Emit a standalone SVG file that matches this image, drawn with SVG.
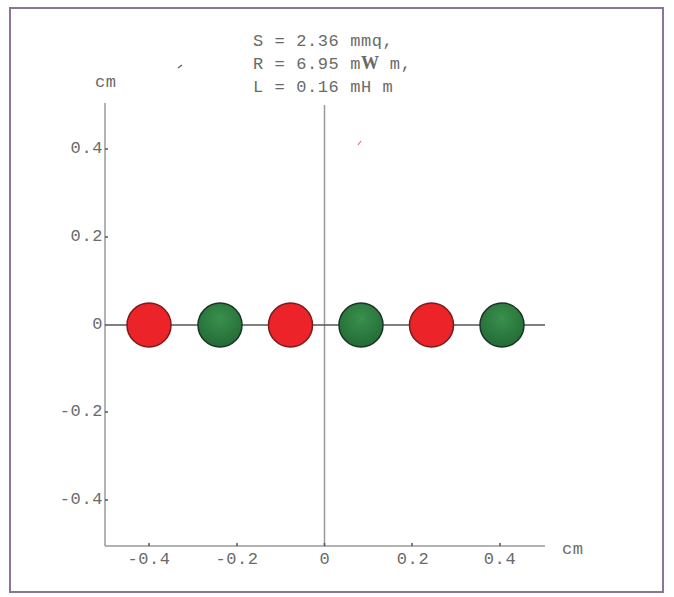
<svg xmlns="http://www.w3.org/2000/svg" width="674" height="597" viewBox="0 0 674 597">
<style>
.t{font-family:"Liberation Mono","DejaVu Sans Mono",monospace;font-size:17px;letter-spacing:0.6px;fill:#6a6a6a}
.ax{stroke:#999;stroke-width:1.5;fill:none}
.tick{stroke:#555;stroke-width:1.5}
.red{fill:#ec2329;stroke:#7a1b1b;stroke-width:1.5}
.green{stroke:#1c3326;stroke-width:1.5}
</style>
<defs>
<radialGradient id="gg" cx="0.5" cy="0.35" r="0.6">
<stop offset="0" stop-color="#39904c"/>
<stop offset="1" stop-color="#256e38"/>
</radialGradient>
</defs>
<rect x="0" y="0" width="674" height="597" fill="#ffffff"/>
<rect x="10" y="8" width="653" height="584" fill="#fff" stroke="#8c7398" stroke-width="2"/>
<g id="title">
<text class="t" x="253" y="46" xml:space="preserve">S = 2.36 mmq,</text>
<text class="t" x="253" y="69" xml:space="preserve">R = 6.95 m<tspan font-family="Liberation Serif,serif" font-weight="bold" font-size="18" letter-spacing="0">W</tspan> m,</text>
<text class="t" x="253" y="92" xml:space="preserve">L = 0.16 mH m</text>
</g>
<g id="axes">
<line class="ax" x1="105" y1="103" x2="105" y2="546"/>
<line class="ax" x1="105" y1="546" x2="545" y2="546"/>
<line class="ax" x1="324.5" y1="105" x2="324.5" y2="546"/>
<line x1="105" y1="325" x2="545" y2="325" stroke="#555" stroke-width="1.3"/>
<line class="tick" x1="105" y1="149" x2="108" y2="149"/>
<line class="tick" x1="105" y1="237" x2="108" y2="237"/>
<line class="tick" x1="105" y1="412" x2="108" y2="412"/>
<line class="tick" x1="105" y1="500" x2="108" y2="500"/>
<line class="tick" x1="149" y1="546" x2="149" y2="543"/>
<line class="tick" x1="237" y1="546" x2="237" y2="543"/>
<line class="tick" x1="324.5" y1="546" x2="324.5" y2="543"/>
<line class="tick" x1="412" y1="546" x2="412" y2="543"/>
<line class="tick" x1="500" y1="546" x2="500" y2="543"/>
</g>
<g id="labels">
<text class="t" x="95" y="87">cm</text>
<text class="t" x="562" y="554">cm</text>
<text class="t" x="103" y="153" text-anchor="end">0.4</text>
<text class="t" x="103" y="241" text-anchor="end">0.2</text>
<text class="t" x="103" y="329" text-anchor="end">0</text>
<text class="t" x="103" y="416" text-anchor="end">-0.2</text>
<text class="t" x="103" y="504" text-anchor="end">-0.4</text>
<text class="t" x="149" y="564" text-anchor="middle">-0.4</text>
<text class="t" x="237" y="564" text-anchor="middle">-0.2</text>
<text class="t" x="325" y="564" text-anchor="middle">0</text>
<text class="t" x="413" y="564" text-anchor="middle">0.2</text>
<text class="t" x="500" y="564" text-anchor="middle">0.4</text>
</g>
<g id="c1"><circle class="red" cx="149" cy="325" r="22"/></g>
<g id="c2"><circle class="green" cx="220" cy="325" r="22" fill="url(#gg)"/></g>
<g id="c3"><circle class="red" cx="290.5" cy="325" r="22"/></g>
<g id="c4"><circle class="green" cx="361" cy="325" r="22" fill="url(#gg)"/></g>
<g id="c5"><circle class="red" cx="431.5" cy="325" r="22"/></g>
<g id="c6"><circle class="green" cx="502" cy="325" r="22" fill="url(#gg)"/></g>
<g id="specks">
<line x1="178" y1="68" x2="182" y2="65" stroke="#666" stroke-width="1.5"/>
<line x1="358" y1="145" x2="361" y2="141" stroke="#e8707a" stroke-width="1.2"/>
</g>
</svg>
